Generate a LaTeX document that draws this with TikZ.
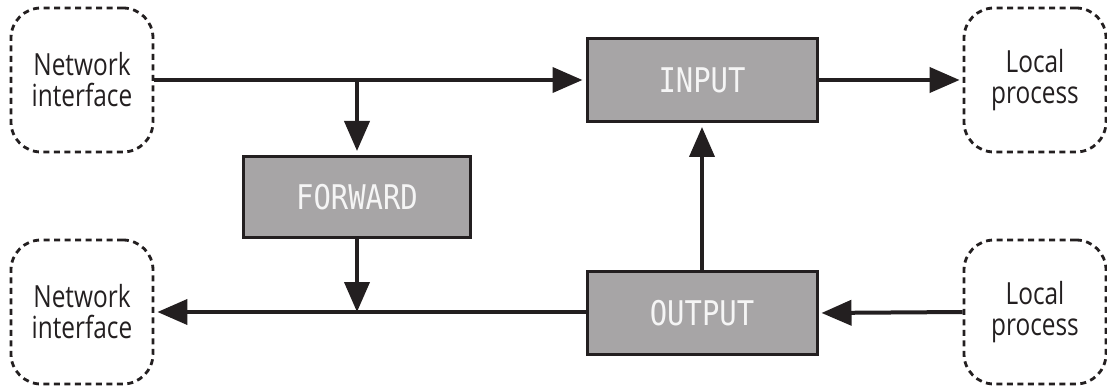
\documentclass[tikz,border=0pt]{standalone}
\usepackage{fontspec}
\usetikzlibrary{arrows.meta}
\newfontfamily\lblfont[FakeStretch=0.8]{Open Sans}
\newfontfamily\chainfont[FakeStretch=0.85]{DejaVu Sans Mono}
\definecolor{ink}{HTML}{231F20}
\definecolor{chainfill}{HTML}{A7A5A6}
\tikzset{
  endpoint/.style={draw=ink, line width=2.8pt, dash pattern=on 6pt off 4.5pt,
    rounded corners=30pt, minimum width=142pt, minimum height=144pt,
    align=center, inner sep=0pt,
    font=\lblfont\fontsize{30.5}{31}\selectfont, text=ink},
  chain/.style={draw=ink, line width=3pt, fill=chainfill,
    minimum width=230pt, minimum height=83pt, inner sep=0pt,
    font=\chainfont\fontsize{34}{34}\selectfont, text=white!96!black},
  flow/.style={draw=ink, line width=4pt,
    -{Triangle[length=30pt,width=25pt]}, shorten >=3pt}
}
\begin{document}
\begin{tikzpicture}[x=1pt, y=-1pt]
  \useasboundingbox (0,0) rectangle (1107,387);
  % packet sources and sinks
  \node[endpoint] (nin)  at (82,80)    {Network\\interface};
  \node[endpoint] (nout) at (82,312)   {Network\\interface};
  \node[endpoint] (lin)  at (1035,80)  {Local\\process};
  \node[endpoint] (lout) at (1035,312) {Local\\process};
  % chains
  \node[chain] (input)   at (702,80)  {INPUT};
  \node[chain] (output)  at (702,313) {OUTPUT};
  \node[chain, minimum width=227pt, minimum height=81pt] (forward) at (357,197) {FORWARD};
  % junctions on the horizontal paths
  \coordinate (split) at (357,80);
  \coordinate (merge) at (357,312);
  % flows
  \draw[flow] (nin.east) -- (input.west);
  \draw[flow] (input.east) -- (lin.west);
  \draw[flow, shorten >=4pt] (split) -- (forward.north);
  \draw[flow, shorten >=0pt] (forward.south) -- (merge);
  \draw[flow, shorten >=4pt] (output.north) -- (input.south);
  \draw[flow] (lout.west) -- (output.east);
  \draw[flow] (output.west |- merge) -- (nout.east |- merge);
\end{tikzpicture}
\end{document}
